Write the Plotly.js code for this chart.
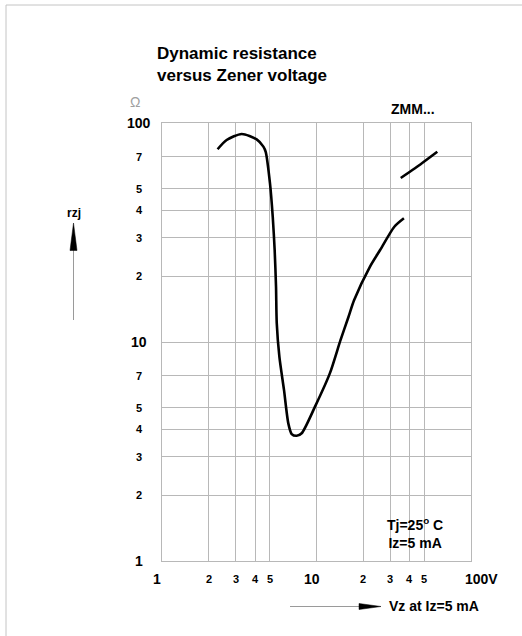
<!DOCTYPE html>
<html>
<head>
<meta charset="utf-8">
<script src="https://cdn.plot.ly/plotly-3.0.1.min.js"></script>
<style>html,body{margin:0;padding:0;background:#fff;}#chart{width:522px;height:636px;}</style>
</head>
<body>
<div id="chart"></div>
<script>
// ---- data ----
const mainVz = [2.29, 2.62, 3.28, 4.10, 4.53, 4.69, 5.00, 5.21, 5.36, 5.47, 5.53, 5.75, 6.16, 6.57, 6.91, 7.44, 8.02, 9.78, 12.2, 14.3, 16.1, 17.5, 22.2, 25.8, 31.9, 36.8];
const mainRzj = [75.9, 83.6, 89.1, 84.2, 78.0, 73.9, 53.0, 37.3, 26.3, 17.9, 12.2, 8.57, 6.04, 4.25, 3.80, 3.73, 3.83, 5.07, 7.19, 10.2, 13.0, 15.5, 22.1, 26.3, 33.6, 36.7];
const upperVz = [35.1, 43.4, 60.5];
const upperRzj = [56.1, 62.1, 73.9];

const xTickVals = [1, 2, 3, 4, 5, 10, 20, 30, 40, 50, 100];
const xTickText = ['1', '2', '3', '4', '5', '10', '2', '3', '4', '5', '100V'];
const xTickMajor = [true, false, false, false, false, true, false, false, false, false, true];
const yTickVals = [1, 2, 3, 4, 5, 7, 10, 20, 30, 40, 50, 70, 100];
const yTickText = ['1', '2', '3', '4', '5', '7', '10', '2', '3', '4', '5', '7', '100'];
const yTickMajor = [true, false, false, false, false, false, true, false, false, false, false, false, true];

// ---- layout helpers ----
const W = 522, H = 636;
const M = {l: 162, r: 51, t: 123, b: 75};
const PW = W - M.l - M.r, PH = H - M.t - M.b;
const px = v => (v - M.l) / PW;          // pixel x -> paper x
const py = v => (H - M.b - v) / PH;      // pixel y -> paper y
const FONT = 'Liberation Sans, Arial, Helvetica, sans-serif';
const GRID = '#b8b8b8';

const annotations = [];
yTickVals.forEach((v, i) => {
  annotations.push({
    xref: 'paper', yref: 'y', x: px(139), y: Math.log10(v),
    xanchor: 'center', yanchor: 'middle', showarrow: false,
    text: '<b>' + yTickText[i] + '</b>',
    font: {family: FONT, size: yTickMajor[i] ? 14 : 11, color: '#000'}
  });
});
xTickVals.forEach((v, i) => {
  const isLast = i === xTickVals.length - 1;
  annotations.push({
    xref: 'x', yref: 'paper', x: Math.log10(v), y: py(579),
    xanchor: isLast ? 'left' : 'center', yanchor: 'middle', showarrow: false,
    xshift: isLast ? -8 : (xTickMajor[i] ? -5 : 0),
    text: '<b>' + xTickText[i] + '</b>',
    font: {family: FONT, size: xTickMajor[i] ? 14 : 11, color: '#000'}
  });
});
annotations.push(
  {xref: 'paper', yref: 'paper', x: px(135), y: py(102), xanchor: 'center', yanchor: 'middle', showarrow: false,
   text: 'Ω', font: {family: FONT, size: 14, color: '#a0a0a0'}},
  {xref: 'paper', yref: 'paper', x: px(413), y: py(109), xanchor: 'center', yanchor: 'middle', showarrow: false,
   text: '<b>ZMM...</b>', font: {family: FONT, size: 14, color: '#000'}},
  {xref: 'paper', yref: 'paper', x: px(415), y: py(533), xanchor: 'center', yanchor: 'middle', showarrow: false,
   align: 'center', text: '<b>Tj=25<sup>o</sup> C<br>Iz=5 mA</b>', font: {family: FONT, size: 14, color: '#000'}},
  {xref: 'paper', yref: 'paper', x: px(387), y: py(606), xanchor: 'left', yanchor: 'middle', showarrow: false,
   text: '<b>Vz at Iz=5 mA</b>', font: {family: FONT, size: 14, color: '#000'}},
  {xref: 'paper', yref: 'paper', x: px(73.5), y: py(213), xanchor: 'center', yanchor: 'middle', showarrow: false,
   text: '<b>rzj</b>', font: {family: FONT, size: 12, color: '#000'}}
);

const shapes = [
  // outer frame (left and top)
  {type: 'line', xref: 'paper', yref: 'paper', x0: px(6), x1: px(6), y0: py(5), y1: py(640), line: {color: '#c4c4c4', width: 1}},
  {type: 'line', xref: 'paper', yref: 'paper', x0: px(6), x1: px(530), y0: py(5), y1: py(5), line: {color: '#c4c4c4', width: 1}},
  // vertical arrow beside rzj
  {type: 'line', xref: 'paper', yref: 'paper', x0: px(73.5), x1: px(73.5), y0: py(320), y1: py(245), line: {color: '#9a9a9a', width: 1}},
  {type: 'path', xref: 'paper', yref: 'paper',
   path: `M ${px(70)},${py(250.5)} L ${px(77)},${py(250.5)} L ${px(73.5)},${py(223)} Z`,
   fillcolor: '#000', line: {color: '#000', width: 0.5}},
  // horizontal arrow before Vz label
  {type: 'line', xref: 'paper', yref: 'paper', x0: px(290), x1: px(362), y0: py(606.5), y1: py(606.5), line: {color: '#9a9a9a', width: 1}},
  {type: 'path', xref: 'paper', yref: 'paper',
   path: `M ${px(359)},${py(603.5)} L ${px(359)},${py(609.5)} L ${px(381)},${py(606.5)} Z`,
   fillcolor: '#000', line: {color: '#000', width: 0.5}}
];

const axisCommon = {
  type: 'log', range: [0, 2], showgrid: true, gridcolor: GRID, gridwidth: 1,
  showline: true, mirror: true, linecolor: GRID, linewidth: 1,
  zeroline: false, ticks: '', showticklabels: false, fixedrange: true
};

const data = [
  {x: mainVz, y: mainRzj, type: 'scatter', mode: 'lines',
   line: {color: '#000', width: 2.6, shape: 'spline', smoothing: 0.7}, hoverinfo: 'skip'},
  {x: upperVz, y: upperRzj, type: 'scatter', mode: 'lines',
   line: {color: '#000', width: 2.6, shape: 'spline', smoothing: 0.7}, hoverinfo: 'skip'}
];

const layout = {
  width: W, height: H, margin: M,
  paper_bgcolor: '#fff', plot_bgcolor: '#fff', showlegend: false,
  title: {text: '<b>Dynamic resistance<br>versus Zener voltage</b>',
          xref: 'container', yref: 'container', x: 157 / W, xanchor: 'left',
          y: 1 - 59 / H, yanchor: 'middle',
          font: {family: FONT, size: 17, color: '#000'}},
  xaxis: Object.assign({tickvals: xTickVals}, axisCommon),
  yaxis: Object.assign({tickvals: yTickVals}, axisCommon),
  annotations: annotations,
  shapes: shapes
};

Plotly.newPlot('chart', data, layout, {staticPlot: true, displayModeBar: false});
</script>
</body>
</html>
